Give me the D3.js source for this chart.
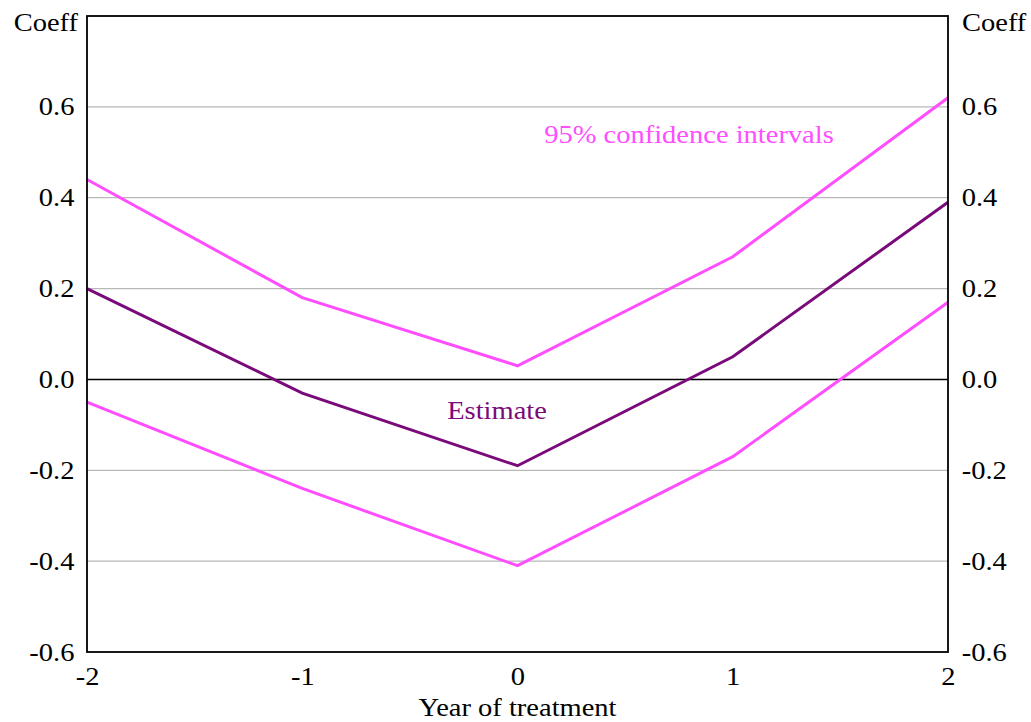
<!DOCTYPE html>
<html><head><meta charset="utf-8">
<script src="https://cdn.jsdelivr.net/npm/d3@7"></script>
<style>body{margin:0;background:#fff}svg{display:block}text{font-family:"Liberation Serif","Times New Roman",serif}</style>
</head><body>
<script>
const years = [-2, -1, 0, 1, 2];
const estimate = [0.20, -0.03, -0.19, 0.05, 0.39];
const upper = [0.44, 0.18, 0.03, 0.27, 0.62];
const lower = [-0.05, -0.24, -0.41, -0.17, 0.17];
const yTicks = [-0.6, -0.4, -0.2, 0.0, 0.2, 0.4, 0.6];
const xTicks = [-2, -1, 0, 1, 2];

const W = 1031, H = 722;
const FS = 25, SX = 1.14;
const m = {l: 87, r: 83, t: 16, b: 70};
const svg = d3.select("body").append("svg").attr("width", W).attr("height", H);
const x = d3.scaleLinear().domain([-2, 2]).range([m.l, W - m.r]);
const y = d3.scaleLinear().domain([-0.6, 0.8]).range([H - m.b, m.t]);

svg.append("g").selectAll("line").data(yTicks.filter(d => d !== 0 && d !== -0.6)).join("line")
  .attr("x1", x(-2)).attr("x2", x(2)).attr("y1", d => y(d)).attr("y2", d => y(d))
  .attr("stroke", "#b8b8b8").attr("stroke-width", 1.3);
svg.append("line").attr("x1", x(-2)).attr("x2", x(2)).attr("y1", y(0)).attr("y2", y(0))
  .attr("stroke", "#000").attr("stroke-width", 1.5);

const fmt = d => d3.format(".1f")(d).replace("\u2212", "-");
const fmtX = d => String(d);
const axL = d3.axisLeft(y).tickValues(yTicks).tickSize(0).tickPadding(11).tickFormat(fmt);
const axR = d3.axisRight(y).tickValues(yTicks).tickSize(0).tickPadding(12).tickFormat(fmt);
const axB = d3.axisBottom(x).tickValues(xTicks).tickSize(0).tickPadding(15).tickFormat(fmtX);
function style(g){
  g.select(".domain").remove();
  g.attr("font-size", null).attr("font-family", null);
  g.selectAll("text").attr("font-size", FS).attr("fill", "#000").attr("transform", `scale(${SX},1)`);
}
svg.append("g").attr("transform", `translate(${m.l},0)`).call(axL).call(style);
svg.append("g").attr("transform", `translate(${W - m.r},0)`).call(axR).call(style);
svg.append("g").attr("transform", `translate(0,${H - m.b})`).call(axB).call(style);

const line = d3.line().x((d, i) => x(years[i])).y(d => y(d));
svg.append("path").datum(upper).attr("d", line).attr("fill", "none").attr("stroke", "#ff4dff").attr("stroke-width", 3);
svg.append("path").datum(lower).attr("d", line).attr("fill", "none").attr("stroke", "#ff4dff").attr("stroke-width", 3);
svg.append("path").datum(estimate).attr("d", line).attr("fill", "none").attr("stroke", "#7a0a7a").attr("stroke-width", 3);

svg.append("rect").attr("x", x(-2)).attr("y", y(0.8)).attr("width", x(2) - x(-2)).attr("height", y(-0.6) - y(0.8))
  .attr("fill", "none").attr("stroke", "#000").attr("stroke-width", 1.8);

function label(tx, ty, anchor, txt, color){
  svg.append("text").attr("transform", `translate(${tx},${ty}) scale(${SX},1)`)
    .attr("text-anchor", anchor).attr("font-size", FS).attr("fill", color || "#000").text(txt);
}
label(78, 31, "end", "Coeff");
label(962, 31, "start", "Coeff");
label(x(0), 716, "middle", "Year of treatment");
label(689, 143, "middle", "95% confidence intervals", "#ff4dff");
label(497, 419, "middle", "Estimate", "#7a0a7a");
</script>
</body></html>
